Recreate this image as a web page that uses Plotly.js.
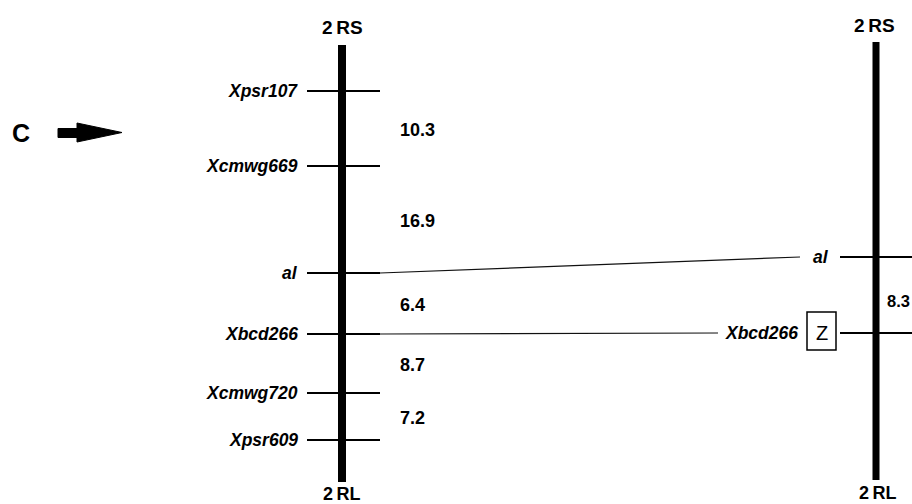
<!DOCTYPE html>
<html>
<head>
<meta charset="utf-8">
<script src="https://cdn.plot.ly/plotly-3.0.1.min.js"></script>
<style>html,body{margin:0;padding:0;background:#fff;}#chart{width:912px;height:504px;}</style>
</head>
<body>
<div id="chart"></div>
<script>
// ---- data ----
var leftMarkers = ['Xpsr107', 'Xcmwg669', 'al', 'Xbcd266', 'Xcmwg720', 'Xpsr609'];
var leftPos = [91, 166, 273, 334, 393, 440];
var leftIntervals = ['10.3', '16.9', '6.4', '8.7', '7.2'];
var rightMarkers = ['al', 'Xbcd266'];
var rightPos = [257, 333];
var rightIntervals = ['8.3'];
var italicMarkers = ['Xpsr107', 'Xcmwg669', 'al', 'Xbcd266', 'Xcmwg720', 'Xpsr609'];
var armLabels = ['2\u2009RS', '2\u2009RL'];
var panelLabel = 'C';
var boxedGene = 'Z';

// ---- layout geometry ----
var FONT = 'Liberation Sans, Arial, Helvetica, sans-serif';
var L = {x: 342, top: 45, bottom: 482, tick0: 307, tick1: 380, labelX: 300, numX: 398};
var R = {x: 876, top: 42, bottom: 480, tick0: 840, tick1: 912, labelX: [831, 800], numX: 885};

var traces = [];
// chromosome bars
traces.push({x: [L.x, L.x], y: [L.top, L.bottom], mode: 'lines', line: {color: '#000', width: 8}, hoverinfo: 'skip'});
traces.push({x: [R.x, R.x], y: [R.top, R.bottom], mode: 'lines', line: {color: '#000', width: 7}, hoverinfo: 'skip'});

// ticks
function ticks(pos, x0, x1) {
  var xs = [], ys = [];
  pos.forEach(function (p) { xs.push(x0, x1, null); ys.push(p, p, null); });
  return {x: xs, y: ys, mode: 'lines', line: {color: '#000', width: 2}, hoverinfo: 'skip'};
}
traces.push(ticks(leftPos, L.tick0, L.tick1));
traces.push(ticks(rightPos, R.tick0, R.tick1));

// connecting lines between homologous markers
var connEnd = {al: 800, Xbcd266: 718};
rightMarkers.forEach(function (m, i) {
  var li = leftMarkers.indexOf(m);
  traces.push({x: [L.tick1, connEnd[m]], y: [leftPos[li], rightPos[i]], mode: 'lines',
    line: {color: '#111', width: 1.2}, hoverinfo: 'skip'});
});

// arrow (filled)
traces.push({x: [58, 77, 77, 122, 77, 77, 58, 58], y: [128.5, 128.5, 123, 132.5, 142, 137.5, 137.5, 128.5],
  mode: 'lines', fill: 'toself', fillcolor: '#000', line: {color: '#000', width: 1}, hoverinfo: 'skip'});

var ann = [];
function txt(x, y, t, anchor, size, style) {
  ann.push({x: x, y: y, xref: 'x', yref: 'y', text: t, showarrow: false, xanchor: anchor, yanchor: 'middle',
    font: {family: FONT, size: size, color: '#000', weight: style.weight || 'bold', style: style.italic ? 'italic' : 'normal'}});
}
leftMarkers.forEach(function (m, i) { txt(L.labelX, leftPos[i], m, 'right', 17.5, {italic: italicMarkers.indexOf(m) >= 0}); });
leftIntervals.forEach(function (v, i) { txt(L.numX, (leftPos[i] + leftPos[i + 1]) / 2 + 1, v, 'left', 18, {}); });
rightMarkers.forEach(function (m, i) { txt(R.labelX[i], rightPos[i], m, 'right', 17.5, {italic: true}); });
rightIntervals.forEach(function (v, i) { txt(R.numX, (rightPos[i] + rightPos[i + 1]) / 2 + 6, v, 'left', 16.5, {}); });
// arm labels
txt(L.x, 27, armLabels[0], 'center', 19, {});
txt(L.x, 494, armLabels[1], 'center', 18, {});
txt(R.x - 2, 25, armLabels[0], 'center', 19, {});
txt(R.x + 2, 493, armLabels[1], 'center', 18, {});
// panel label
txt(21, 133, panelLabel, 'center', 25, {});
// boxed gene
txt(821.5, 333, boxedGene, 'center', 20, {weight: 'normal'});

var layout = {
  width: 912, height: 504,
  margin: {l: 0, r: 0, t: 0, b: 0},
  paper_bgcolor: '#fff', plot_bgcolor: '#fff',
  showlegend: false,
  xaxis: {range: [0, 912], visible: false, fixedrange: true},
  yaxis: {range: [504, 0], visible: false, fixedrange: true},
  annotations: ann,
  shapes: [{type: 'rect', xref: 'x', yref: 'y', x0: 807, x1: 836, y0: 312, y1: 350, line: {color: '#000', width: 1.5}}]
};
Plotly.newPlot('chart', traces, layout, {staticPlot: true, displayModeBar: false});
</script>
</body>
</html>
